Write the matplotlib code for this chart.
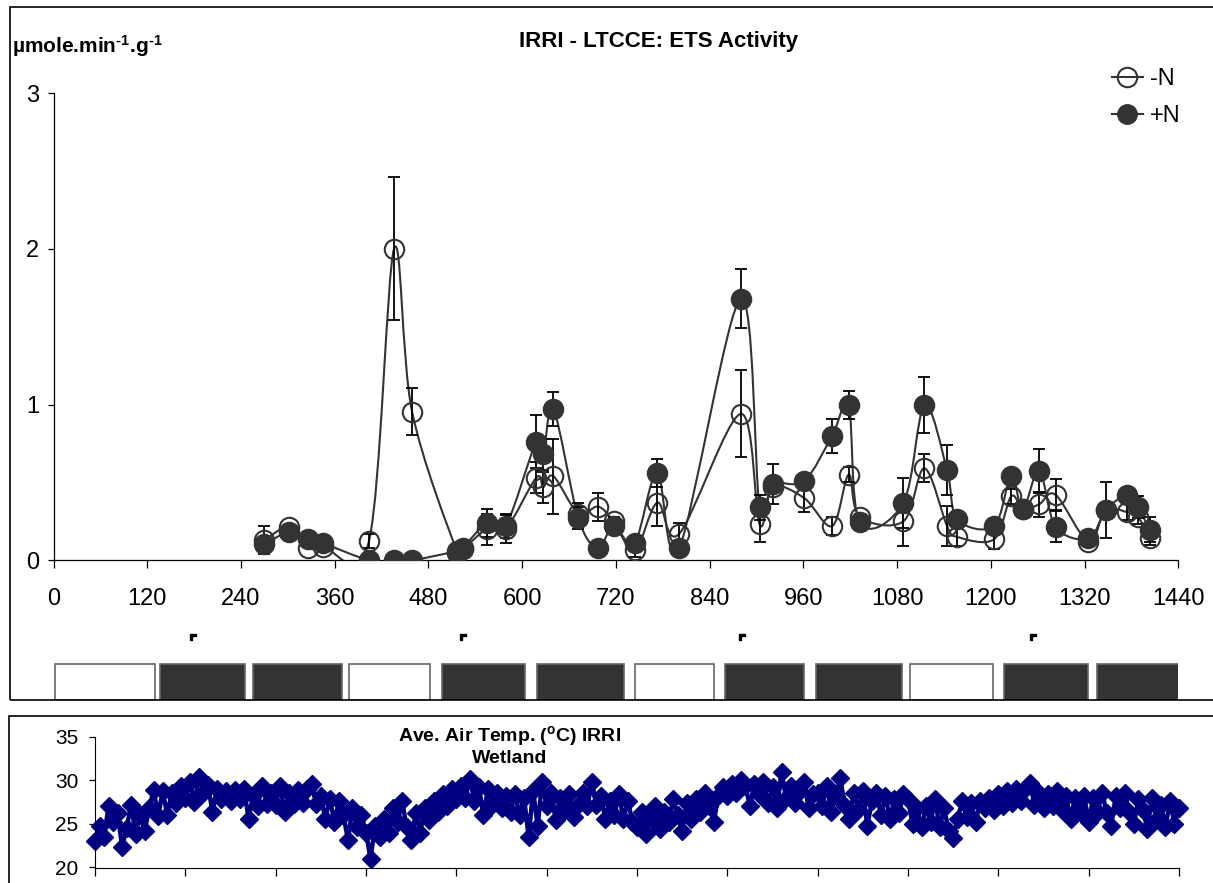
import numpy as np
import matplotlib
matplotlib.use("Agg")
import matplotlib.pyplot as plt
from matplotlib.path import Path
from matplotlib.patches import PathPatch, Rectangle
from matplotlib.lines import Line2D

plt.rcParams['font.family'] = ['Liberation Sans', 'DejaVu Sans']
plt.rcParams['mathtext.fontset'] = 'custom'
plt.rcParams['mathtext.rm'] = 'Liberation Sans'
plt.rcParams['mathtext.bf'] = 'Liberation Sans:bold'
plt.rcParams['mathtext.default'] = 'bf'

# ETS activity sampling days
days = [270, 302, 326, 345, 404, 436, 459, 517, 524, 555, 579, 618, 627, 640,
        672, 697, 717, 744, 773, 801, 880, 904, 921, 961, 997, 1018, 1032,
        1088, 1115, 1144, 1157, 1204, 1226, 1241, 1262, 1283, 1325, 1347,
        1374, 1388, 1404]

minus_n = [0.13, 0.215, 0.08, 0.087, 0.126, 2.0, 0.955, 0.05, 0.07, 0.20,
           0.20, 0.53, 0.47, 0.54, 0.30, 0.345, 0.25, 0.063, 0.37, 0.17,
           0.94, 0.23, 0.47, 0.40, 0.22, 0.55, 0.28, 0.25, 0.59, 0.22, 0.15,
           0.135, 0.41, 0.33, 0.36, 0.42, 0.12, 0.32, 0.31, 0.28, 0.14]
minus_n_err = [0.09, 0.0, 0.0, 0.0, 0.045, 0.46, 0.15, 0.0, 0.0, 0.10,
               0.09, 0.10, 0.10, 0.24, 0.07, 0.09, 0.03, 0.04, 0.15, 0.07,
               0.28, 0.11, 0.0, 0.09, 0.06, 0.05, 0.02, 0.16, 0.09, 0.13,
               0.06, 0.06, 0.05, 0.0, 0.08, 0.10, 0.0, 0.0, 0.05, 0.05, 0.04]

plus_n = [0.105, 0.18, 0.135, 0.11, 0.0, 0.0, 0.0, 0.06, 0.08, 0.24, 0.22,
          0.76, 0.68, 0.97, 0.27, 0.08, 0.22, 0.11, 0.56, 0.08, 1.68, 0.34,
          0.49, 0.51, 0.80, 0.995, 0.245, 0.37, 0.995, 0.58, 0.265, 0.22,
          0.54, 0.33, 0.575, 0.215, 0.14, 0.32, 0.42, 0.34, 0.195]
plus_n_err = [0.0, 0.0, 0.0, 0.0, 0.0, 0.0, 0.0, 0.0, 0.0, 0.09, 0.08,
              0.17, 0.10, 0.11, 0.07, 0.0, 0.03, 0.0, 0.09, 0.0, 0.19, 0.08,
              0.13, 0.0, 0.11, 0.09, 0.02, 0.16, 0.18, 0.16, 0.04, 0.0, 0.0,
              0.03, 0.14, 0.10, 0.02, 0.18, 0.0, 0.07, 0.08]

# season bars under the chart (dark = cropped)
season_start = [2, 136, 255, 378, 497, 619, 744, 860, 976, 1096, 1217, 1336]
season_end = [130, 245, 369, 482, 604, 730, 846, 961, 1086, 1203, 1324, 1445]
season_dark = [False, True, True, False, True, True, False, True, True, False, True, True]
mark_days = [179, 524, 881, 1254]

# daily air temperature, read every 6 days
temp_step = 6
temp = [
    23.0, 24.8, 23.5, 27.0, 25.2, 26.3, 22.4, 24.5, 27.2, 23.8,
    26.0, 24.2, 26.8, 28.9, 25.9, 28.8, 26.0, 28.5, 27.4, 29.3,
    28.0, 29.8, 27.5, 30.4, 28.6, 29.5, 26.4, 29.0, 27.8, 28.8,
    27.6, 28.9, 27.8, 29.0, 25.6, 28.3, 27.0, 29.4, 27.3, 28.6,
    27.2, 29.3, 26.4, 28.6, 27.3, 28.9, 27.4, 29.0, 29.6, 27.3,
    28.2, 25.6, 27.9, 25.2, 27.6, 26.0, 23.2, 26.8, 24.6, 26.0,
    24.0, 21.0, 24.8, 23.5, 25.6, 24.0, 26.8, 25.2, 27.6, 24.6,
    23.2, 26.2, 24.0, 26.8, 25.5, 27.6, 26.4, 28.4, 27.0, 29.0,
    27.8, 29.4, 28.0, 30.2, 27.6, 29.2, 26.0, 29.0, 27.2, 28.6,
    26.8, 28.2, 26.4, 28.4, 26.0, 28.0, 23.5, 28.8, 24.8, 29.8,
    27.0, 28.6, 25.4, 28.0, 26.6, 28.4, 25.8, 27.2, 28.6, 27.0,
    29.8, 27.2, 28.2, 25.6, 27.6, 26.0, 28.4, 25.6, 27.6, 25.2,
    24.6, 26.4, 23.8, 25.6, 27.0, 24.4, 26.4, 25.2, 27.8, 26.0,
    24.2, 27.4, 25.6, 27.8, 26.4, 28.6, 27.0, 25.2, 28.2, 29.2,
    28.2, 29.6, 28.6, 30.0, 29.4, 27.0, 29.6, 28.4, 29.8, 27.4,
    29.2, 26.8, 31.0, 28.0, 29.4, 27.4, 28.8, 29.8, 26.8, 28.4,
    28.6, 27.0, 29.4, 26.4, 28.2, 30.3, 27.0, 25.6, 28.6, 26.6,
    28.8, 24.8, 27.6, 28.6, 26.0, 28.2, 25.6, 27.8, 26.2, 28.4,
    27.8, 25.0, 26.8, 24.6, 27.0, 25.2, 27.8, 24.6, 26.8, 24.2,
    23.4, 25.6, 27.6, 25.8, 27.4, 25.2, 27.6, 26.8, 28.0, 26.6,
    28.4, 27.0, 28.8, 27.4, 29.0, 27.6, 29.0, 29.7, 27.2, 28.6,
    26.8, 28.4, 27.0, 28.8, 26.6, 28.2, 25.6, 28.0, 26.4, 28.2,
    25.2, 28.0, 26.4, 28.6, 26.2, 24.8, 28.2, 26.8, 28.6, 26.4,
    25.0, 27.8, 26.6, 24.4, 28.0, 25.4, 27.2, 24.6, 27.6, 25.0,
    26.8,
]
temp_days = [i * temp_step for i in range(len(temp))]


def smooth_path(x, y):
    # Catmull-Rom curve through the points, like Excel's smoothed line
    pts = np.column_stack([x, y]).astype(float)
    verts = [pts[0]]
    codes = [Path.MOVETO]
    n = len(pts)
    for i in range(n - 1):
        p0 = pts[max(i - 1, 0)]
        p1 = pts[i]
        p2 = pts[i + 1]
        p3 = pts[min(i + 2, n - 1)]
        verts += [p1 + (p2 - p0) / 6, p2 - (p3 - p1) / 6, p2]
        codes += [Path.CURVE4] * 3
    return Path(verts, codes)


W, H = 1213, 883
fig = plt.figure(figsize=(W / 100, H / 100), dpi=100)

# outer frames
fig.add_artist(Rectangle((10 / W, 1 - 700 / H), 1.0, (700 - 7) / H,
                         transform=fig.transFigure, fill=False, lw=1.2, ec='black'))
fig.add_artist(Rectangle((9 / W, -0.1), 1.0, 0.1 + 1 - 716 / H,
                         transform=fig.transFigure, fill=False, lw=1.2, ec='black'))

line_col = '#333333'

# main chart
ax = fig.add_axes([53.5 / W, 1 - 560.3 / H, (1178.3 - 53.5) / W, (560.3 - 93) / H])
ax.add_patch(PathPatch(smooth_path(days, minus_n), fill=False, ec=line_col, lw=1.5, zorder=2))
ax.add_patch(PathPatch(smooth_path(days, plus_n), fill=False, ec=line_col, lw=1.5, zorder=2))

for vals, errs in [(minus_n, minus_n_err), (plus_n, plus_n_err)]:
    ex = [d for d, e in zip(days, errs) if e > 0]
    ey = [v for v, e in zip(vals, errs) if e > 0]
    ee = [e for e in errs if e > 0]
    ax.errorbar(ex, ey, yerr=ee, fmt='none', ecolor='black', elinewidth=1.3,
                capsize=4.5, capthick=1.3, zorder=3)

ax.plot(days, minus_n, 'o', ms=14, mfc='none', mec=line_col, mew=1.5, zorder=4)
ax.plot(days, plus_n, 'o', ms=14, mfc=line_col, mec=line_col, mew=1.5, zorder=5)

ax.set_xlim(0, 1440)
ax.set_ylim(0, 3)
ax.set_xticks(range(0, 1441, 120))
ax.set_yticks([0, 1, 2, 3])
ax.spines['top'].set_visible(False)
ax.spines['right'].set_visible(False)
ax.spines['left'].set_linewidth(0.9)
ax.spines['bottom'].set_linewidth(0.9)
ax.tick_params(axis='x', direction='out', length=6, width=0.9, pad=14, labelsize=17)
ax.tick_params(axis='y', direction='out', length=4.5, width=0.9, pad=6, labelsize=17)

fig.text(659 / W, 1 - 42 / H, 'IRRI - LTCCE: ETS Activity', ha='center', va='center',
         fontsize=16, fontweight='bold')
fig.text(12 / W, 1 - 46 / H, 'µmole.min$^{\u20101}$.g$^{\u20101}$', ha='left', va='center',
         fontsize=15, fontweight='bold')

handles = [Line2D([], [], color=line_col, lw=1.5, marker='o', ms=14, mfc='none', mec=line_col, mew=1.5),
           Line2D([], [], color=line_col, lw=1.5, marker='o', ms=14, mfc=line_col, mec=line_col)]
fig.legend(handles, ['-N', '+N'], loc='upper left', bbox_to_anchor=(1112 / W, 1 - 68 / H),
           frameon=False, fontsize=17, handlelength=1.3, handletextpad=0.3,
           labelspacing=0.65, borderpad=0, borderaxespad=0)

# season strip
sx = fig.add_axes([53.5 / W, 1 - 700 / H, (1178.3 - 53.5) / W, 75 / H])
sx.set_xlim(0, 1440)
sx.set_ylim(0, 75)
sx.axis('off')
for s, e, dark in zip(season_start, season_end, season_dark):
    sx.add_patch(Rectangle((s, 0.5), e - s, 35.5, facecolor='#333333' if dark else 'white',
                           edgecolor='#666666', lw=1.2))
mark = Path([(-1, -1), (-1, 1), (1, 1), (1, 0.3), (-0.3, 0.3), (-0.3, -1), (-1, -1)])
sx.plot(mark_days, [63] * len(mark_days), ls='none', marker=mark, ms=5, color='black')

# air temperature panel
tx = fig.add_axes([95 / W, 1 - 867.5 / H, (1179 - 95) / W, (867.5 - 736.7) / H])
tx.plot(temp_days, temp, color='#000080', lw=3.2, marker='D', ms=9.5, mec='#000080',
        mfc='#000080', clip_on=False)
tx.set_xlim(0, 1440)
tx.set_ylim(20, 35)
tx.set_yticks([20, 25, 30, 35])
tx.set_xticks(range(0, 1441, 120))
tx.set_xticklabels([])
tx.spines['top'].set_visible(False)
tx.spines['right'].set_visible(False)
tx.tick_params(axis='x', direction='out', length=6, width=0.9)
tx.tick_params(axis='y', direction='out', length=4, width=0.9, pad=8, labelsize=15)
fig.text(510 / W, 1 - 745.5 / H, 'Ave. Air Temp. ($^{o}$C) IRRI\nWetland', ha='center',
         va='center', fontsize=14, fontweight='bold', linespacing=1.15)

fig.savefig('out.png', dpi=100)
